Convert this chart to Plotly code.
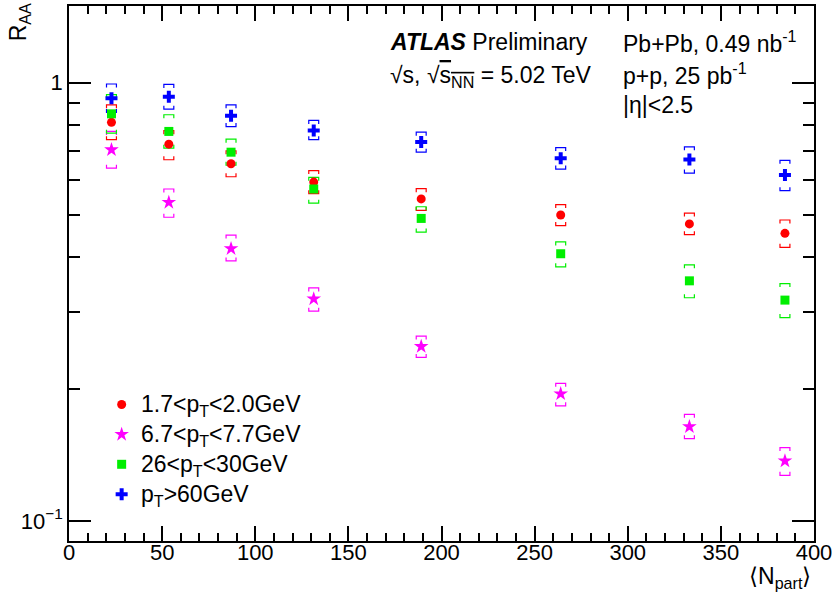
import plotly.graph_objects as go

npart = [22.8, 53.6, 87.0, 131.4, 189.1, 264.0, 333.1, 384.4]

series_names = ["1.7&lt;p<sub>T</sub>&lt;2.0GeV", "6.7&lt;p<sub>T</sub>&lt;7.7GeV",
                "26&lt;p<sub>T</sub>&lt;30GeV", "p<sub>T</sub>&gt;60GeV"]

raa_low = [0.812, 0.724, 0.653, 0.593, 0.543, 0.499, 0.476, 0.453]
raa_low_hi = [0.890, 0.777, 0.699, 0.630, 0.573, 0.527, 0.504, 0.486]
raa_low_lo = [0.741, 0.667, 0.610, 0.558, 0.511, 0.472, 0.450, 0.421]

raa_mid = [0.703, 0.533, 0.418, 0.321, 0.250, 0.195, 0.164, 0.137]
raa_mid_hi = [0.774, 0.572, 0.449, 0.340, 0.264, 0.206, 0.175, 0.147]
raa_mid_lo = [0.638, 0.493, 0.392, 0.301, 0.236, 0.183, 0.154, 0.127]

raa_jet = [0.849, 0.774, 0.694, 0.572, 0.490, 0.407, 0.353, 0.319]
raa_jet_hi = [0.939, 0.845, 0.743, 0.608, 0.521, 0.433, 0.384, 0.348]
raa_jet_lo = [0.767, 0.709, 0.648, 0.531, 0.456, 0.380, 0.323, 0.291]

raa_high = [0.921, 0.929, 0.840, 0.778, 0.732, 0.672, 0.668, 0.616]
raa_high_hi = [0.993, 0.991, 0.890, 0.820, 0.771, 0.711, 0.714, 0.665]
raa_high_lo = [0.855, 0.870, 0.794, 0.741, 0.694, 0.635, 0.622, 0.567]

colors = ["#FF0000", "#FF00FF", "#00EE00", "#0000FF"]
symbols = ["circle", "star", "square", "cross"]
sizes = [9, 11, 9, 10]

FONT = "Liberation Sans, Arial, Helvetica, sans-serif"

# plot geometry (pixels)
W, H = 836, 595
ML, MR, MT, MB = 69, 17, 4, 54
PW = W - ML - MR
PH = H - MT - MB
XMIN, XMAX = 0, 400
YLOG_MIN, YLOG_MAX = -1.046, 0.175
px_per_x = PW / (XMAX - XMIN)
px_per_dex = PH / (YLOG_MAX - YLOG_MIN)
br_dx = 5.0 / px_per_x
br_tick = 10 ** (3.5 / px_per_dex)


def px2paper(xp, yp):
    return (xp - ML) / PW, 1 - (yp - MT) / PH


def brackets(xs, hi, lo):
    bx, by = [], []
    for x, h, l in zip(xs, hi, lo):
        bx += [x - br_dx, x - br_dx, x + br_dx, x + br_dx, None]
        by += [h / br_tick, h, h, h / br_tick, None]
        bx += [x - br_dx, x - br_dx, x + br_dx, x + br_dx, None]
        by += [l * br_tick, l, l, l * br_tick, None]
    return bx, by


fig = go.Figure()
data = [(raa_low, raa_low_hi, raa_low_lo), (raa_mid, raa_mid_hi, raa_mid_lo),
        (raa_jet, raa_jet_hi, raa_jet_lo), (raa_high, raa_high_hi, raa_high_lo)]

for i, (v, hi, lo) in enumerate(data):
    bx, by = brackets(npart, hi, lo)
    fig.add_trace(go.Scatter(x=bx, y=by, mode="lines", showlegend=False, hoverinfo="skip",
                             line=dict(color=colors[i], width=1.2)))
for i, (v, hi, lo) in enumerate(data):
    fig.add_trace(go.Scatter(x=npart, y=v, mode="markers", name=series_names[i], showlegend=False,
                             marker=dict(symbol=symbols[i], size=sizes[i], color=colors[i],
                                         line=dict(width=0))))

# hand-made legend (ROOT style) on an overlay axis spanning the plot area
leg_x_px = 122
leg_y_px = [404, 434, 464, 494]
for i in range(4):
    lx, ly = px2paper(leg_x_px, leg_y_px[i])
    fig.add_trace(go.Scatter(x=[lx], y=[ly], xaxis="x2", yaxis="y2", mode="markers",
                             showlegend=False, hoverinfo="skip",
                             marker=dict(symbol=symbols[i], size=sizes[i], color=colors[i],
                                         line=dict(width=0))))

tick_font = dict(family=FONT, size=22, color="black")
axis_common = dict(showline=True, linecolor="black", linewidth=1.5, mirror="ticks",
                   ticks="inside", tickcolor="black", tickwidth=1.5, showgrid=False,
                   zeroline=False, tickfont=tick_font, ticklabeloverflow="allow")

fig.update_xaxes(range=[XMIN, XMAX], tickmode="array", tickvals=list(range(0, 401, 50)),
                 ticklen=15, ticklabelstandoff=-9,
                 minor=dict(ticks="inside", ticklen=8, tickwidth=1.5, tickcolor="black",
                            tickvals=list(range(0, 401, 10))),
                 **axis_common)
fig.update_yaxes(type="log", range=[YLOG_MIN, YLOG_MAX], tickmode="array",
                 tickvals=[0.1, 1], ticktext=["10<sup>\u22121</sup>", "1"], ticklen=22,
                 minor=dict(ticks="inside", ticklen=11, tickwidth=1.5, tickcolor="black",
                            tickvals=[0.2, 0.3, 0.4, 0.5, 0.6, 0.7, 0.8, 0.9]),
                 **axis_common)

tf = dict(family=FONT, size=23, color="black")
ann = []


def add_text(text, xp, yp, xanchor="left", **kw):
    x, y = px2paper(xp, yp)
    ann.append(dict(text=text, x=x, y=y, xref="paper", yref="paper", xanchor=xanchor,
                    yanchor="middle", showarrow=False, font=tf, **kw))


add_text("<b><i>ATLAS</i></b> Preliminary", 390, 40)
add_text("\u221As, \u221A<span style=\"text-decoration:overline\">s<sub>NN</sub></span> = 5.02 TeV", 390, 75)
add_text("Pb+Pb, 0.49 nb<sup>-1</sup>", 625, 40)
add_text("p+p, 25 pb<sup>-1</sup>", 625, 72)
add_text("|\u03B7|&lt;2.5", 625, 103)
add_text("R<sub>AA</sub>", 20, 20, xanchor="center", textangle=-90)
add_text("\u27E8N<sub>part</sub>\u27E9", 785, 578, xanchor="center")
for i in range(4):
    add_text(series_names[i], 139, leg_y_px[i] + 1)

fig.update_layout(
    width=W, height=H, margin=dict(l=ML, r=MR, t=MT, b=MB),
    paper_bgcolor="white", plot_bgcolor="white",
    font=dict(family=FONT, size=23, color="black"),
    annotations=ann,
    xaxis2=dict(overlaying="x", range=[0, 1], visible=False, fixedrange=True),
    yaxis2=dict(overlaying="y", range=[0, 1], visible=False, fixedrange=True),
    showlegend=False,
)

fig.write_html("out.html", config={"displayModeBar": False},
               post_script="document.body.style.margin='0';document.body.style.padding='0';"
                           "document.body.style.overflow='hidden';")
